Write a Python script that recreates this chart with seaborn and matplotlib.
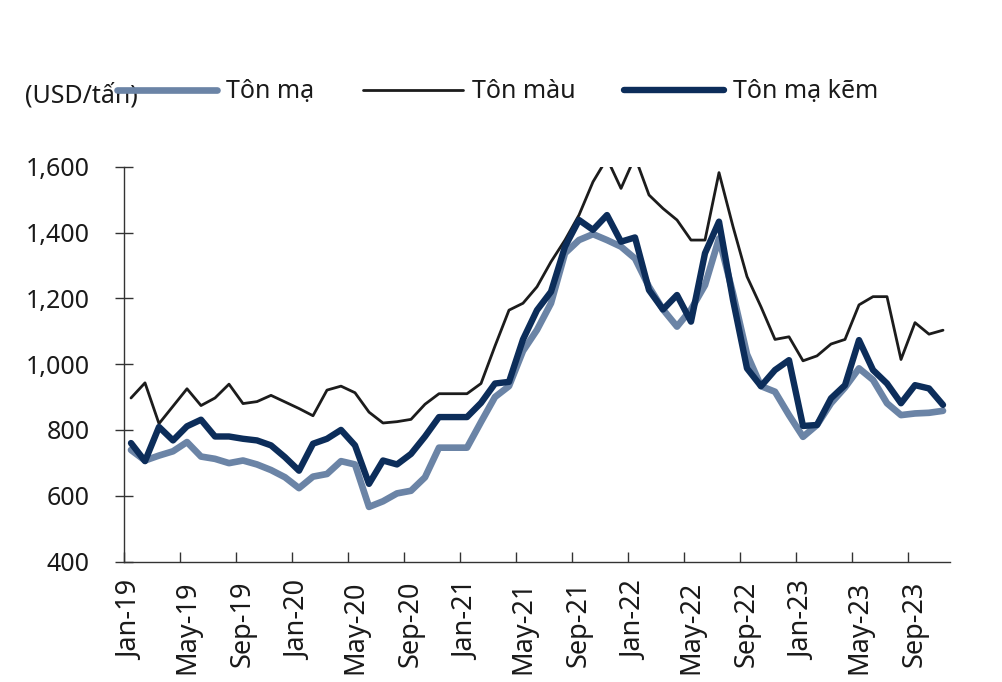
import matplotlib
matplotlib.use("Agg")
import numpy as np
import pandas as pd
import matplotlib.pyplot as plt
import seaborn as sns
from matplotlib.ticker import FixedLocator

# monthly data, Jan-19 .. Nov-23
months = pd.date_range("2019-01-01", "2023-11-01", freq="MS")
month_labels = [m.strftime("%b-%y") for m in months]

ton_ma = [739, 707, 722, 735, 763, 719, 712, 699, 707, 695, 678, 656, 623, 658, 666,
          705, 695, 566, 583, 607, 615, 656, 746, 746, 746, 824, 900, 933, 1040, 1104,
          1185, 1337, 1377, 1395, 1377, 1357, 1321, 1235, 1166, 1114, 1166, 1240, 1382,
          1215, 1030, 933, 916, 845, 779, 815, 881, 929, 987, 952, 881, 845, 850, 852, 858]

ton_mau = [897, 943, 819, 872, 925, 874, 897, 939, 880, 886, 905, 885, 865, 843, 921,
           933, 913, 854, 821, 825, 832, 878, 910, 910, 910, 941, 1055, 1164, 1185, 1235,
           1311, 1377, 1453, 1554, 1625, 1534, 1630, 1514, 1473, 1438, 1377, 1377, 1582,
           1418, 1266, 1174, 1075, 1083, 1010, 1025, 1061, 1075, 1180, 1205, 1205, 1014,
           1126, 1091, 1103]

ton_ma_kem = [760, 705, 809, 768, 811, 831, 780, 780, 773, 768, 753, 717, 676, 758, 773,
              800, 753, 636, 707, 695, 727, 780, 839, 839, 839, 882, 941, 946, 1075, 1164,
              1220, 1357, 1438, 1408, 1453, 1372, 1385, 1225, 1166, 1210, 1129, 1337, 1433,
              1195, 987, 933, 982, 1012, 812, 815, 896, 936, 1073, 982, 941, 881, 936, 926, 876]

series_names = ["Tôn mạ", "Tôn màu", "Tôn mạ kẽm"]
series_colors = ["#6b84a6", "#1c1c1c", "#0c2d5a"]
series_widths = [4.8, 2.0, 4.6]

sns.set_theme(style="white")
plt.rcParams["font.family"] = ["Noto Sans", "DejaVu Sans"]
plt.rcParams["text.color"] = "#1a1a1a"

x = np.arange(len(months))
df = pd.DataFrame({"x": x, "Tôn mạ": ton_ma, "Tôn màu": ton_mau, "Tôn mạ kẽm": ton_ma_kem})

fig = plt.figure(figsize=(10.02, 6.82), dpi=100)
ax = fig.add_axes([124 / 1002, 1 - 561.5 / 682, (950 - 124) / 1002, (561.5 - 166.7) / 682])

for name, col, lw in zip(series_names, series_colors, series_widths):
    sns.lineplot(data=df, x="x", y=name, ax=ax, color=col, linewidth=lw, label=name,
                 solid_capstyle="round", solid_joinstyle="round")

ax.set_xlim(-0.5, len(months) - 0.5)
ax.set_ylim(400, 1600)
ax.set_xlabel("")
ax.set_ylabel("")

# labels centred on categories, tick marks on category boundaries
label_pos = x[::4]
ax.xaxis.set_major_locator(FixedLocator(label_pos))
ax.set_xticklabels([month_labels[i] for i in label_pos], rotation=90)
ax.xaxis.set_minor_locator(FixedLocator(label_pos - 0.5))
ax.tick_params(axis="x", which="major", length=0, pad=14, labelsize=19.5, labelcolor="#1a1a1a")
ax.tick_params(axis="x", which="minor", direction="in", length=7, width=1, color="#333333", bottom=True)

yticks = [400, 600, 800, 1000, 1200, 1400, 1600]
ax.set_yticks(yticks)
ax.set_yticklabels([f"{v:,}" for v in yticks])
ax.tick_params(axis="y", direction="inout", length=13, width=1, color="#333333", pad=18,
               labelsize=18, labelcolor="#1a1a1a", left=True)

for s in ["top", "right"]:
    ax.spines[s].set_visible(False)
for s in ["left", "bottom"]:
    ax.spines[s].set_color("#333333")
    ax.spines[s].set_linewidth(1)

handles, labels = ax.get_legend_handles_labels()
ax.get_legend().remove()

fig.text(25 / 1002, 1 - 96 / 682, "(USD/tấn)", fontsize=18, va="center", ha="left")
leg = fig.legend(handles, labels, loc="center left", bbox_to_anchor=(117 / 1002, 1 - 92 / 682),
                 ncol=3, frameon=False, fontsize=18, borderpad=0, borderaxespad=0,
                 handlelength=4, handletextpad=0.36, columnspacing=1.95)

fig.savefig("out.png", dpi=100)
